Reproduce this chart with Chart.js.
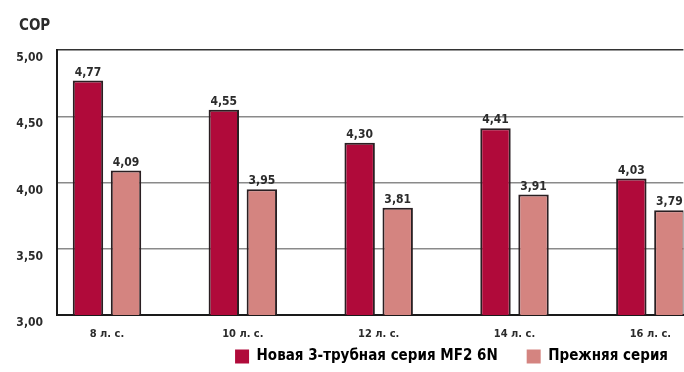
<!DOCTYPE html>
<html>
<head>
<meta charset="utf-8">
<script src="https://cdn.jsdelivr.net/npm/chart.js@4.4.1/dist/chart.umd.min.js"></script>
<style>
  html, body { margin: 0; padding: 0; background: #fff; }
  #wrap { width: 684px; height: 372px; position: relative; }
</style>
</head>
<body>
<div id="wrap"><canvas id="myChart"></canvas></div>
<script>
// Data
const models = ['8 л. с.', '10 л. с.', '12 л. с.', '14 л. с.', '16 л. с.'];
const newSeries = [4.77, 4.55, 4.30, 4.41, 4.03];
const oldSeries = [4.09, 3.95, 3.81, 3.91, 3.79];
const yTicks = [3.00, 3.50, 4.00, 4.50, 5.00];

const FONT = "'DejaVu Sans Condensed', 'Liberation Sans Narrow', sans-serif";
const TEXT = '#2b2b2b';

Chart.defaults.font.family = FONT;
Chart.defaults.font.weight = 'bold';
Chart.defaults.color = TEXT;

function fmt(v) {
    return v.toFixed(2).replace('.', ',');
}

// value labels above the bars + the "COP" caption
const labelsPlugin = {
    id: 'barLabels',
    afterLayout(chart) {
        // nudge the legend a bit to the right / down, like the original
        const lg = chart.legend;
        lg.left += 13; lg.right += 13;
        lg.top += 2; lg.bottom += 2;
        // let the x tick labels run below the thin axis box
        chart.scales.x.bottom = chart.height;
    },
    afterDatasetsDraw(chart) {
        const ctx = chart.ctx;
        ctx.save();
        ctx.fillStyle = TEXT;
        ctx.font = 'bold 12px ' + FONT;
        ctx.textAlign = 'center';
        ctx.textBaseline = 'bottom';
        chart.data.datasets.forEach((ds, i) => {
            chart.getDatasetMeta(i).data.forEach((bar, j) => {
                ctx.fillText(fmt(ds.data[j].y), bar.x, bar.y - 2);
            });
        });
        ctx.font = 'bold 15px ' + FONT;
        ctx.textAlign = 'left';
        ctx.textBaseline = 'alphabetic';
        ctx.fillText('COP', 19, 30);
        ctx.restore();
    }
};

const ctx = document.getElementById('myChart').getContext('2d');
const myChart = new Chart(ctx, {
    type: 'bar',
    data: {
        datasets: [{
            label: 'Новая 3-трубная серия MF2 6N',
            data: newSeries.map((v, i) => ({ x: i, y: v })),
            backgroundColor: '#b00a3a',
            borderColor: '#2a1f22',
            borderWidth: 2,
            borderSkipped: false
        }, {
            label: 'Прежняя серия',
            data: oldSeries.map((v, i) => ({ x: i, y: v })),
            backgroundColor: '#d48480',
            borderColor: '#2a1f22',
            borderWidth: 2,
            borderSkipped: false
        }]
    },
    options: {
        responsive: true,
        maintainAspectRatio: false,
        animation: false,
        layout: { padding: { top: 50, left: 0, right: 0, bottom: 0 } },
        categoryPercentage: 0.56,
        barPercentage: 0.8,
        plugins: {
            legend: {
                position: 'bottom',
                align: 'end',
                labels: {
                    boxWidth: 14,
                    boxHeight: 14,
                    padding: 29,
                    font: { size: 15, weight: 'bold' },
                    color: TEXT,
                    generateLabels(chart) {
                        return chart.data.datasets.map((ds, i) => ({
                            text: ds.label,
                            fillStyle: ds.backgroundColor,
                            strokeStyle: ds.backgroundColor,
                            lineWidth: 0,
                            datasetIndex: i
                        }));
                    }
                }
            },
            tooltip: { enabled: false }
        },
        scales: {
            x: {
                type: 'linear',
                offset: false,
                min: -0.368,
                max: 4.243,
                afterFit(scale) { scale.height = 3; },
                afterBuildTicks(scale) {
                    scale.ticks = models.map((m, i) => ({ value: i }));
                },
                ticks: {
                    padding: 13,
                    autoSkip: false,
                    maxRotation: 0,
                    font: { size: 11, weight: 'bold' },
                    callback: (v) => models[v]
                },
                grid: { display: false, drawTicks: false },
                border: { color: '#1a1a1a', width: 2 }
            },
            y: {
                min: 3,
                max: 5,
                afterFit(scale) { scale.width = 57; },
                afterBuildTicks(scale) {
                    scale.ticks = yTicks.map(v => ({ value: v }));
                },
                ticks: {
                    padding: 14,
                    labelOffset: 8,
                    font: { size: 12, weight: 'bold' },
                    callback: (v) => fmt(v)
                },
                grid: {
                    drawTicks: false,
                    lineWidth: 1.5,
                    color: (c) => c.tick && c.tick.value === 5 ? '#333' : '#8a8a8a'
                },
                border: { color: '#1a1a1a', width: 2 }
            }
        }
    },
    plugins: [labelsPlugin]
});
</script>
</body>
</html>
